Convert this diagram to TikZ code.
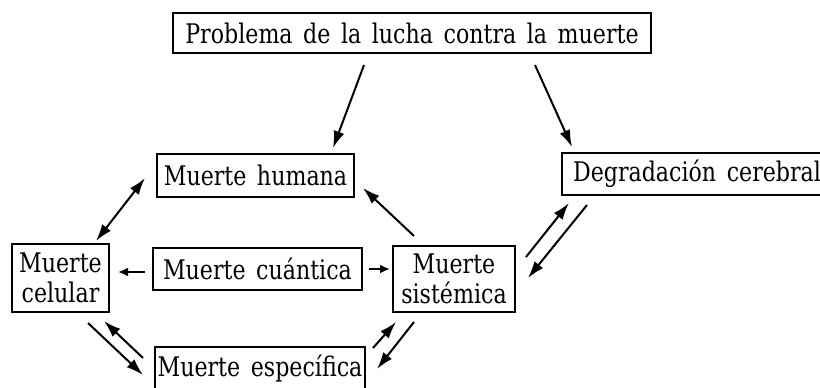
\documentclass[tikz,border=0pt]{standalone}
\usepackage{fontspec}
\setmainfont{DejaVu Serif}[FakeStretch=0.82,WordSpace=1.5]
\usetikzlibrary{arrows.meta}
\begin{document}
\begin{tikzpicture}[x=1pt,y=-1pt,
  box/.style={draw,line width=2pt,inner sep=0pt,align=center,font=\fontsize{27}{30}\selectfont},
  tip/.tip={Latex[length=17pt,width=11pt]},
  stip/.tip={Latex[length=10pt,width=9pt]},
  arr/.style={line width=2pt,-tip},
  sarr/.style={line width=2pt,-stip},
  darr/.style={line width=2pt,tip-tip}]
\useasboundingbox (0,0) rectangle (820,388);
\node[box,minimum width=478pt,minimum height=40pt] (top) at (412,33) {Problema de la lucha contra la muerte};
\node[box,minimum width=197pt,minimum height=43pt] (hum) at (255.5,175.5) {Muerte humana};
\node[box,minimum height=42pt,inner xsep=11pt,anchor=west] (deg) at (561,174) {Degradación cerebral};
\node[box,minimum width=97pt,minimum height=68pt] (cel) at (60.5,278) {Muerte\\celular};
\node[box,minimum width=209pt,minimum height=42pt] (cua) at (257.5,269) {Muerte cuántica};
\node[box,minimum width=122pt,minimum height=66pt] (sis) at (454,279) {Muerte\\sistémica};
\node[box,minimum width=210pt,minimum height=44pt] (esp) at (260,369) {Muerte específica};
% arrow end points
\coordinate (a1s) at (364,65);  \coordinate (a1e) at (333,148);
\coordinate (a2s) at (535,65);  \coordinate (a2e) at (572,147);
\coordinate (a3s) at (145,178); \coordinate (a3e) at (96,241);
\coordinate (a4s) at (414,236); \coordinate (a4e) at (363,188);
\coordinate (a5s) at (526,257); \coordinate (a5e) at (569,203);
\coordinate (a6s) at (587,205); \coordinate (a6e) at (528,278);
\coordinate (a7s) at (145,272); \coordinate (a7e) at (118,272);
\coordinate (a8s) at (369,269); \coordinate (a8e) at (390,269);
\coordinate (a9s) at (88,323);  \coordinate (a9e) at (143,375);
\coordinate (a10s) at (143,358); \coordinate (a10e) at (104,321);
\coordinate (a11s) at (373,348); \coordinate (a11e) at (396,322);
\coordinate (a12s) at (414,322); \coordinate (a12e) at (377,369);
\draw[arr] (a1s) -- (a1e);
\draw[arr] (a2s) -- (a2e);
\draw[darr] (a3s) -- (a3e);
\draw[arr] (a4s) -- (a4e);
\draw[arr] (a5s) -- (a5e);
\draw[arr] (a6s) -- (a6e);
\draw[sarr] (a7s) -- (a7e);
\draw[sarr] (a8s) -- (a8e);
\draw[arr] (a9s) -- (a9e);
\draw[arr] (a10s) -- (a10e);
\draw[arr] (a11s) -- (a11e);
\draw[arr] (a12s) -- (a12e);
\end{tikzpicture}
\end{document}
